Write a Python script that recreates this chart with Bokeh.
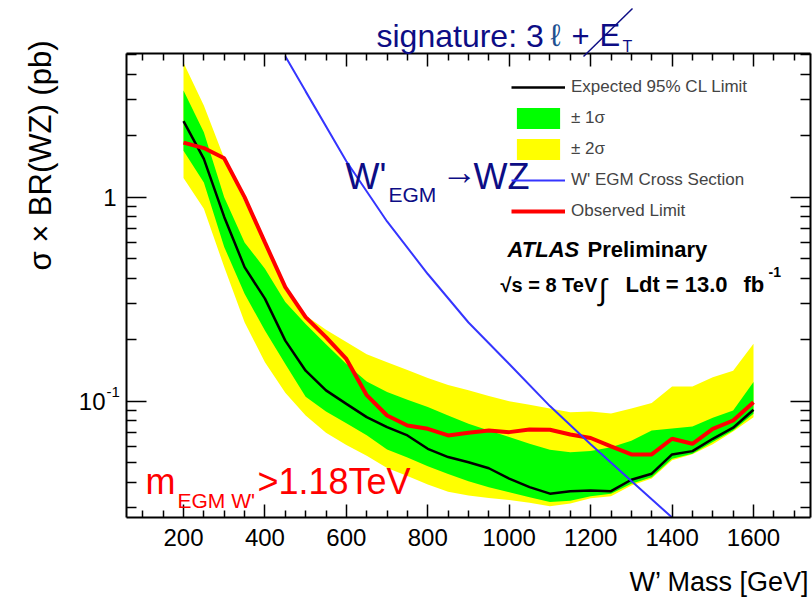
import math
from bokeh.plotting import figure
from bokeh.models import (Range1d, LinearAxis, LogAxis, FixedTicker, Legend,
                          LegendItem, Label, Arrow)
from bokeh.embed import file_html
from bokeh.resources import INLINE

# ---------------- data ----------------
mass = [200, 250, 300, 350, 400, 450, 500, 550, 600, 650, 700, 750, 800, 850,
        900, 950, 1000, 1050, 1100, 1150, 1200, 1250, 1300, 1350, 1400, 1450,
        1500, 1550, 1600]
expected = [2.36, 1.54, 0.80, 0.454, 0.318, 0.198, 0.141, 0.113, 0.097, 0.0835,
            0.0746, 0.0679, 0.0584, 0.0532, 0.0502, 0.0469, 0.0417, 0.0379,
            0.0352, 0.0362, 0.0365, 0.0362, 0.0412, 0.0441, 0.0548, 0.0569,
            0.0654, 0.0741, 0.0908]
observed = [1.85, 1.74, 1.55, 1.00, 0.60, 0.362, 0.258, 0.206, 0.161, 0.107,
            0.0851, 0.076, 0.0732, 0.0679, 0.070, 0.0718, 0.0705, 0.0727,
            0.0724, 0.0687, 0.066, 0.060, 0.0548, 0.0548, 0.0654, 0.0618,
            0.0732, 0.0804, 0.0989]
sig1_hi = [3.33, 2.08, 1.00, 0.60, 0.446, 0.306, 0.239, 0.19, 0.152, 0.125,
           0.111, 0.1016, 0.0935, 0.0851, 0.0775, 0.0718, 0.0667, 0.0618,
           0.0578, 0.0562, 0.057, 0.0595, 0.064, 0.0718, 0.0735, 0.0751,
           0.083, 0.090, 0.124]
sig1_lo = [1.69, 1.18, 0.57, 0.336, 0.222, 0.152, 0.105, 0.089, 0.078, 0.068,
           0.058, 0.053, 0.048, 0.044, 0.0405, 0.0379, 0.0358, 0.0338, 0.032,
           0.0325, 0.0342, 0.0352, 0.0394, 0.0424, 0.0522, 0.0553, 0.063,
           0.0718, 0.0867]
sig2_hi = [4.56, 2.81, 1.55, 0.95, 0.60, 0.349, 0.263, 0.224, 0.195, 0.17,
           0.155, 0.142, 0.13, 0.12, 0.113, 0.106, 0.10, 0.096, 0.092, 0.0883,
           0.089, 0.087, 0.092, 0.098, 0.118, 0.118, 0.131, 0.141, 0.191]
sig2_lo = [1.24, 0.877, 0.454, 0.244, 0.155, 0.11, 0.085, 0.07, 0.061, 0.054,
           0.047, 0.043, 0.039, 0.036, 0.0345, 0.0335, 0.0328, 0.0318, 0.0305,
           0.0315, 0.0334, 0.0342, 0.0386, 0.0418, 0.0513, 0.055, 0.0615,
           0.071, 0.0835]
xsec_mass = [450, 500, 600, 700, 800, 900, 1000, 1100, 1200, 1300, 1400]
xsec = [4.9, 3.3, 1.50, 0.76, 0.42, 0.243, 0.152, 0.0946, 0.0615, 0.0406,
        0.0269]

x_major = [200, 400, 600, 800, 1000, 1200, 1400, 1600]
x_minor = [100, 150, 250, 300, 350, 450, 500, 550, 650, 700, 750, 850, 900,
           950, 1050, 1100, 1150, 1250, 1300, 1350, 1450, 1500, 1550, 1650, 1700]
y_major = [0.1, 1]
y_minor = [0.03, 0.04, 0.05, 0.06, 0.07, 0.08, 0.09, 0.2, 0.3, 0.4, 0.5, 0.6,
           0.7, 0.8, 0.9, 2, 3, 4, 5]

# ---------------- geometry ----------------
W, H = 812, 597
FL, FR, FT, FB = 126, 810, 53, 517          # axes box in page pixels
XMIN, XMAX = 60, 1740
YMIN, YMAX = 0.0269, 5.06
FONT = "Liberation Sans"
NAVY = "#0d0d85"


def X(px):
    return XMIN + (px - FL) * (XMAX - XMIN) / (FR - FL)


def Y(py):
    lt, lb = math.log10(YMAX), math.log10(YMIN)
    return 10 ** (lt - (py - FT) * (lt - lb) / (FB - FT))


# the drawing area covers the whole page; the axes box is drawn by axes
# fixed at the range limits, so every text can live anywhere on the page
p = figure(width=W, height=H, y_axis_type="log",
           x_range=Range1d(X(0), X(W)), y_range=Range1d(Y(H), Y(0)),
           output_backend="svg", toolbar_location=None,
           min_border_left=0, min_border_right=0,
           min_border_top=0, min_border_bottom=0)
p.xgrid.visible = False
p.ygrid.visible = False
p.outline_line_color = None
p.background_fill_color = "white"
p.border_fill_color = "white"

xt = FixedTicker(ticks=x_major, minor_ticks=x_minor)
yt = FixedTicker(ticks=y_major, minor_ticks=y_minor)


def style(ax, major_len, minor_len, labels):
    ax.axis_line_width = 2
    ax.axis_line_color = "black"
    ax.major_tick_in = major_len
    ax.major_tick_out = 0
    ax.minor_tick_in = minor_len
    ax.minor_tick_out = 0
    ax.major_tick_line_width = 1.5
    ax.minor_tick_line_width = 1.5
    ax.major_label_text_font = FONT
    if labels:
        ax.major_label_text_font_size = "24px"
        ax.major_label_text_color = "black"
        ax.major_label_standoff = 11
    else:
        ax.major_label_text_font_size = "1px"
        ax.major_label_text_alpha = 0
        ax.major_label_standoff = 0


bottom = p.xaxis[0]
bottom.ticker = xt
bottom.fixed_location = YMIN
bottom.bounds = (XMIN, XMAX)
style(bottom, 13, 7, True)

left = p.yaxis[0]
left.ticker = yt
left.fixed_location = XMIN
left.bounds = (YMIN, YMAX)
style(left, 20, 10, False)

top = LinearAxis(ticker=xt, fixed_location=YMAX, bounds=(XMIN, XMAX))
style(top, 13, 7, False)
p.add_layout(top, "above")

right = LogAxis(ticker=yt, fixed_location=XMAX, bounds=(YMIN, YMAX))
style(right, 20, 10, False)
p.add_layout(right, "right")

# ---------------- glyphs ----------------
r_y = p.varea(x=mass, y1=sig2_lo, y2=sig2_hi, fill_color="#ffff00")
r_g = p.varea(x=mass, y1=sig1_lo, y2=sig1_hi, fill_color="#00ff00")
r_e = p.line(mass, expected, line_color="black", line_width=2.5)
r_o = p.line(mass, observed, line_color="#ff0000", line_width=4)
r_b = p.line(xsec_mass, xsec, line_color="#3535ff", line_width=2)


def txt(s, px, py, size, color="black", style="normal", align="left",
        baseline="alphabetic", angle=0.0):
    if baseline == "alphabetic":
        off = 5 + 0.15 * size
        if angle:
            px -= off
        else:
            py -= off
    p.add_layout(Label(x=X(px), y=Y(py), text=s, text_font=FONT,
                       text_font_size=f"{size}px", text_color=color,
                       text_font_style=style, text_align=align,
                       text_baseline=baseline, angle=angle))


# y tick labels
txt("1", 116, 197, 24, baseline="middle", align="right")
txt("10", 105, 401, 24, baseline="middle", align="right")
txt("-1", 106, 391, 15, baseline="middle")

# axis titles
txt("W’ Mass [GeV]", 809, 591, 27, align="right")
txt("σ × BR(WZ) (pb)", 50, 40, 31, align="right", angle=math.pi / 2)

# header: signature: 3 l + missing E_T
txt("signature: 3", 376, 45, 32, color=NAVY)
txt("ℓ", 550, 45, 31, color="#204f90")
txt("+", 571, 45, 31, color=NAVY)
txt("E", 599, 45, 31, color=NAVY)
txt("T", 622, 53, 16, color=NAVY)
p.add_layout(Arrow(end=None, x_start=X(583), y_start=Y(56), x_end=X(632),
                   y_end=Y(8), line_color=NAVY, line_width=1.5))

# W'_EGM -> WZ
txt("W'", 345, 186, 36, color=NAVY)
txt("EGM", 388, 202, 21, color=NAVY)
txt("→", 441, 181, 36, color=NAVY)
txt("WZ", 473, 186, 36, color=NAVY)

# ATLAS
txt("ATLAS", 507, 257, 22, style="bold italic")
txt("Preliminary", 587, 257, 22, style="bold")
txt("√s = 8 TeV", 500, 292, 20, style="bold")
txt("∫", 598, 298, 30)
txt("Ldt = 13.0", 625, 292, 22, style="bold")
txt("fb", 743, 292, 22, style="bold")
txt("-1", 768, 279, 14, style="bold")

# mass limit
txt("m", 145, 491, 36, color="#ff0000")
txt("EGM W'", 177, 508, 21, color="#ff0000")
txt(">1.18TeV", 257, 491, 36, color="#ff0000")

legend = Legend(items=[
    LegendItem(label="Expected 95% CL Limit", renderers=[r_e]),
    LegendItem(label="± 1σ", renderers=[r_g]),
    LegendItem(label="± 2σ", renderers=[r_y]),
    LegendItem(label="W' EGM Cross Section", renderers=[r_b]),
    LegendItem(label="Observed Limit", renderers=[r_o]),
], location=(511, H - 224), padding=0, margin=0, spacing=5,
    glyph_width=54, glyph_height=26, label_height=22, label_standoff=6,
    label_text_font=FONT, label_text_font_size="17px",
    border_line_color=None, background_fill_alpha=0)
p.add_layout(legend)

open("out.html", "w").write(file_html(p, INLINE))
